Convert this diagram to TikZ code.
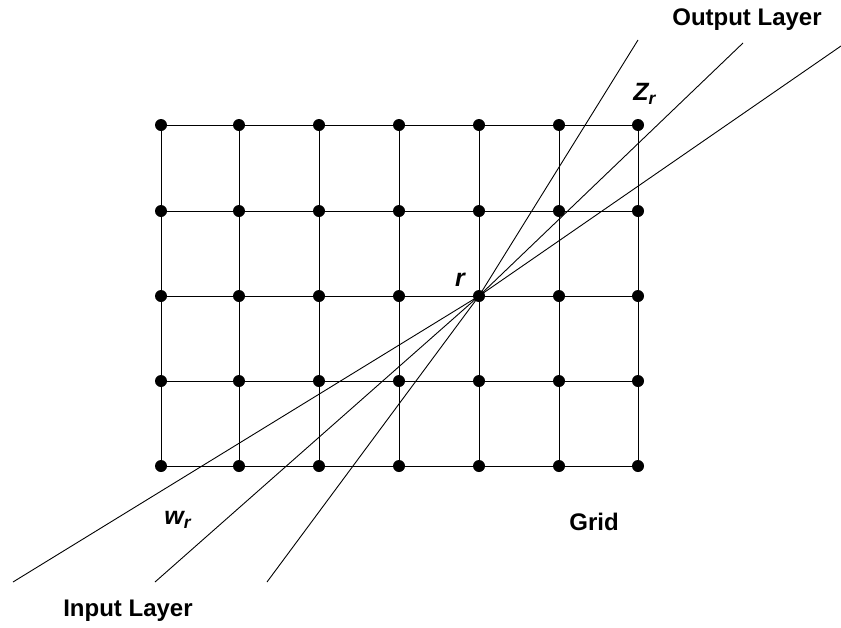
\documentclass[tikz,border=0pt]{standalone}
\usepackage{fontspec}
\setmainfont{Liberation Sans}
\usetikzlibrary{positioning}
\tikzset{
  unit/.style={circle, fill=black, inner sep=0pt, minimum size=6pt},
  lbl/.style={font=\fontsize{12}{14}\selectfont\bfseries},
  sym/.style={font=\fontsize{12.5}{14}\selectfont\bfseries\itshape},
}
\begin{document}
\begin{tikzpicture}[x=0.5pt, y=-0.5pt, line width=0.45pt]
\useasboundingbox (0,0) rectangle (841,627);

\foreach \x [count=\i] in {161,239,319,399,479,559,638}
  \foreach \y [count=\j] in {125,211,296,381,466}
    \node[unit] (n-\i-\j) at (\x,\y) {};

\foreach \i in {1,...,7}
  \draw (n-\i-1.center) -- (n-\i-5.center);
\foreach \j in {1,...,5}
  \draw (n-1-\j.center) -- (n-7-\j.center);

\coordinate (in1) at (13,582);
\coordinate (in2) at (155,582);
\coordinate (in3) at (267,582);
\coordinate (out1) at (638,40);
\coordinate (out2) at (743,43);
\coordinate (out3) at (841,46);
\foreach \k in {1,2,3}
  \draw (in\k) -- (n-5-3.center) -- (out\k);

\node[lbl] (outlbl) at (747,20) {Output Layer};
\node[lbl] (inlbl) at (128,611) {Input Layer};
\node[lbl] (gridlbl) at (594,522) {Grid};
\node[sym] (rlbl) at (460,280) {r};
\node[sym] (zlbl) at (645,94) {Z\textsubscript{r}};
\node[sym] (wlbl) at (178,520) {w\textsubscript{r}};

\end{tikzpicture}
\end{document}
